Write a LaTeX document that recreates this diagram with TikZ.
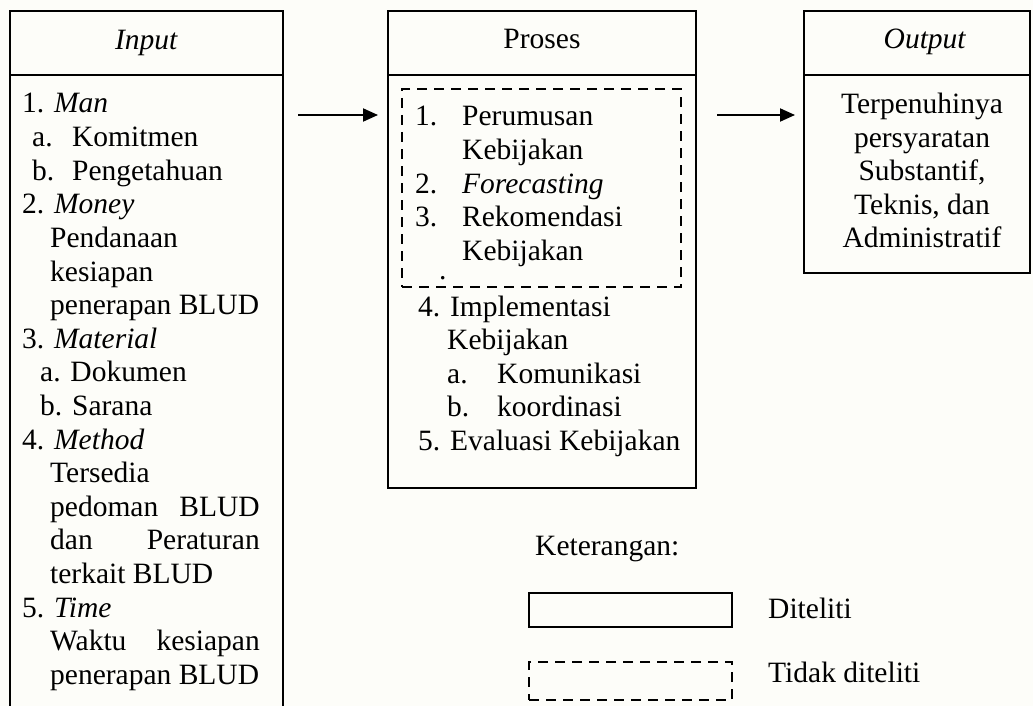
\documentclass[tikz,border=0pt]{standalone}
\usepackage{fontspec}
\setmainfont{Liberation Serif}
\usetikzlibrary{arrows.meta}
\definecolor{paper}{RGB}{253,253,249}
\begin{document}
\begin{tikzpicture}[x=1pt,y=-1pt,
  frame/.style={draw, line width=2pt, inner sep=0pt, outer sep=0pt, rectangle},
  hidden/.style={draw=none, inner sep=0pt, outer sep=0pt, rectangle},
  dashframe/.style={draw, line width=2pt, dash pattern=on 10pt off 7pt, inner sep=0pt, outer sep=0pt, rectangle},
  txt/.style={inner sep=0pt, anchor=base west, font=\fontsize{29.5}{33.5}\selectfont},
  txtr/.style={txt, anchor=base east},
  txtc/.style={txt, anchor=base},
  flow/.style={line width=2pt, -{Triangle[length=15pt,width=13pt]}}]

\useasboundingbox (0,0) rectangle (1033,706);
\fill[paper] (0,0) rectangle (1033,706);

% ---------- Input column ----------
\node[frame, minimum width=273pt, minimum height=64pt] (inhead) at (146.5,43) {};
\node[hidden, minimum width=273pt, minimum height=631pt] (inbody) at (146.5,390.5) {};
\draw[line width=2pt] (inbody.south west) -- (inbody.north west) -- (inbody.north east) -- (inbody.south east);
\node[txtc] (intitle) at (146.5,50) {\textit{Input}};

\node[txt] (i1) at (22,113) {1. \textit{Man}};
\node[txt] (i1a) at (32,146.6) {a.};
\node[txt] (i1at) at (72,146.6) {Komitmen};
\node[txt] (i1b) at (32,180.2) {b.};
\node[txt] (i1bt) at (72,180.2) {Pengetahuan};
\node[txt] (i2) at (22,213.8) {2. \textit{Money}};
\node[txt] (i2l1) at (50,247.4) {Pendanaan};
\node[txt] (i2l2) at (50,281) {kesiapan};
\node[txt] (i2l3) at (50,314.6) {penerapan BLUD};
\node[txt] (i3) at (22,348.2) {3. \textit{Material}};
\node[txt] (i3a) at (40,381.8) {a. Dokumen};
\node[txt] (i3b) at (40,415.4) {b. Sarana};
\node[txt] (i4) at (22,449) {4. \textit{Method}};
\node[txt] (i4l1) at (50,482.6) {Tersedia};
\node[txt] (i4l2a) at (50,516.2) {pedoman};
\node[txtr] (i4l2b) at (260,516.2) {BLUD};
\node[txt] (i4l3a) at (50,549.8) {dan};
\node[txtr] (i4l3b) at (260,549.8) {Peraturan};
\node[txt] (i4l4) at (50,583.4) {terkait BLUD};
\node[txt] (i5) at (22,617) {5. \textit{Time}};
\node[txt] (i5l1a) at (50,650.6) {Waktu};
\node[txtr] (i5l1b) at (260,650.6) {kesiapan};
\node[txt] (i5l2) at (50,684.2) {penerapan BLUD};

% ---------- Proses column ----------
\node[frame, minimum width=308pt, minimum height=64pt] (prhead) at (542,43) {};
\node[frame, minimum width=308pt, minimum height=413pt] (prbody) at (542,281.5) {};
\node[txtc] (prtitle) at (542,49) {Proses};
\node[dashframe, minimum width=279pt, minimum height=198pt] (prdash) at (541.5,188) {};

\node[txt] (p1n) at (415,126) {1.};
\node[txt] (p1t) at (462,126) {Perumusan};
\node[txt] (p1u) at (462,159.5) {Kebijakan};
\node[txt] (p2n) at (415,193) {2.};
\node[txt] (p2t) at (462,193) {\textit{Forecasting}};
\node[txt] (p3n) at (415,226.5) {3.};
\node[txt] (p3t) at (462,226.5) {Rekomendasi};
\node[txt] (p3u) at (462,260) {Kebijakan};
\node[txt] (pdot) at (439,279) {.};
\node[txt] (p4) at (418,316) {4. Implementasi};
\node[txt] (p4u) at (447,349.5) {Kebijakan};
\node[txt] (p4an) at (447,383) {a.};
\node[txt] (p4at) at (497,383) {Komunikasi};
\node[txt] (p4bn) at (447,416.5) {b.};
\node[txt] (p4bt) at (497,416.5) {koordinasi};
\node[txt] (p5) at (418,450) {5. Evaluasi Kebijakan};

% ---------- Output column ----------
\node[frame, minimum width=226pt, minimum height=64pt] (outhead) at (917,43) {};
\node[frame, minimum width=226pt, minimum height=198pt] (outbody) at (917,174) {};
\node[txtc] (outtitle) at (925,49) {\textit{Output}};
\node[txtc] (o1) at (922,113.5) {Terpenuhinya};
\node[txtc] (o2) at (922,147) {persyaratan};
\node[txtc] (o3) at (922,180.5) {Substantif,};
\node[txtc] (o4) at (922,214) {Teknis, dan};
\node[txtc] (o5) at (922,247.5) {Administratif};

% ---------- Flow arrows ----------
\coordinate (a1s) at (298,115);
\coordinate (a1e) at (378,115);
\coordinate (a2s) at (717,115);
\coordinate (a2e) at (795,115);
\draw[flow] (a1s) -- (a1e);
\draw[flow] (a2s) -- (a2e);

% ---------- Legend ----------
\node[txt] (legtitle) at (535,555) {Keterangan:};
\node[frame, minimum width=203pt, minimum height=34pt] (legsolid) at (630.5,610) {};
\node[dashframe, minimum width=203pt, minimum height=38pt] (legdash) at (630.5,681) {};
\node[txt] (legsolidtxt) at (768,618) {Diteliti};
\node[txt] (legdashtxt) at (768,682) {Tidak diteliti};
\end{tikzpicture}
\end{document}
